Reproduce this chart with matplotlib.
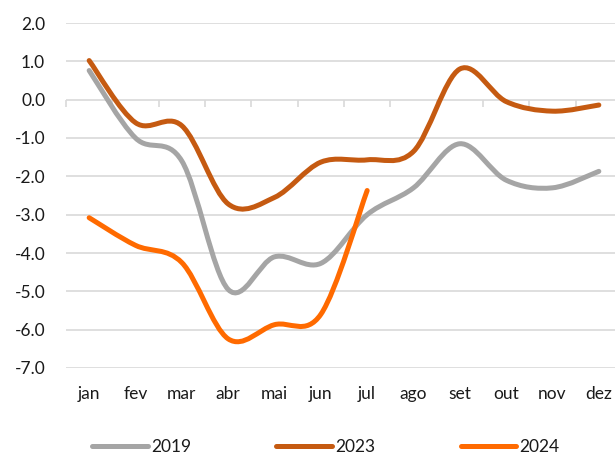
import matplotlib
matplotlib.use("Agg")
import matplotlib.pyplot as plt
from matplotlib.path import Path
from matplotlib.patches import PathPatch
from matplotlib.lines import Line2D
import numpy as np

months = ["jan", "fev", "mar", "abr", "mai", "jun", "jul", "ago", "set", "out", "nov", "dez"]
s2019 = [0.76, -1.0, -1.6, -4.95, -4.1, -4.27, -3.0, -2.3, -1.15, -2.1, -2.3, -1.87]
s2023 = [1.02, -0.6, -0.68, -2.72, -2.55, -1.63, -1.57, -1.35, 0.8, -0.05, -0.3, -0.14]
s2024 = [-3.08, -3.8, -4.25, -6.24, -5.87, -5.6, -2.37]
series_names = ["2019", "2023", "2024"]
colors = ["#A5A5A5", "#C55A11", "#FF6A00"]

plt.rcParams['font.family'] = ['Lato', 'DejaVu Sans']

fig = plt.figure(figsize=(6.15, 4.54), dpi=100)
ax = fig.add_axes([66/615, (454-368)/454, 556/615, (368-23)/454])


def smooth_path(ys):
    xs = np.arange(len(ys), dtype=float)
    pts = np.column_stack([xs, np.asarray(ys, dtype=float)])
    n = len(pts)
    verts = [pts[0]]
    codes = [Path.MOVETO]
    for i in range(n - 1):
        p0 = pts[i - 1] if i > 0 else pts[i]
        p1 = pts[i]
        p2 = pts[i + 1]
        p3 = pts[i + 2] if i + 2 < n else pts[i + 1]
        c1 = p1 + (p2 - p0) / 6.0
        c2 = p2 - (p3 - p1) / 6.0
        verts += [c1, c2, p2]
        codes += [Path.CURVE4] * 3
    return Path(verts, codes)


for ys, c in zip([s2019, s2023, s2024], colors):
    patch = PathPatch(smooth_path(ys), facecolor='none', edgecolor=c, lw=3.6,
                      capstyle='round', joinstyle='round', zorder=3)
    ax.add_patch(patch)

ax.set_xlim(-0.5, 11.5)
ax.set_ylim(-7, 2)
ax.set_yticks(np.arange(-7, 2.01, 1.0))
ax.set_yticklabels([f"{v:.1f}" for v in np.arange(-7, 2.01, 1.0)])
ax.set_xticks(range(len(months)))
ax.set_xticklabels(months)
ax.grid(axis='y', color='#D9D9D9', lw=1.2)
ax.set_axisbelow(True)
for sp in ax.spines.values():
    sp.set_visible(False)
ax.tick_params(axis='both', length=0, labelsize=12.5, colors='#1a1a1a')
ax.tick_params(axis='x', pad=13)
ax.tick_params(axis='y', pad=15)

sec = ax.secondary_xaxis(7/9)
sec.set_xticks(np.arange(-0.5, 12, 1.0))
sec.tick_params(axis='x', direction='in', length=5, width=1.2, color='#D9D9D9',
                labelbottom=False, labeltop=False)
sec.spines['bottom'].set_color('#D9D9D9')
sec.spines['bottom'].set_linewidth(1.2)
sec.spines['top'].set_visible(False)

handles = [Line2D([], [], color=c, lw=3.6, solid_capstyle='round') for c in colors]
fig.legend(handles, series_names, loc='center', bbox_to_anchor=(0.53, 6.5/454),
           ncol=3, frameon=False, fontsize=12.5, handlelength=3.2, handletextpad=0.2,
           columnspacing=4.9, labelcolor='#1a1a1a')

fig.savefig("out.png", dpi=100)
